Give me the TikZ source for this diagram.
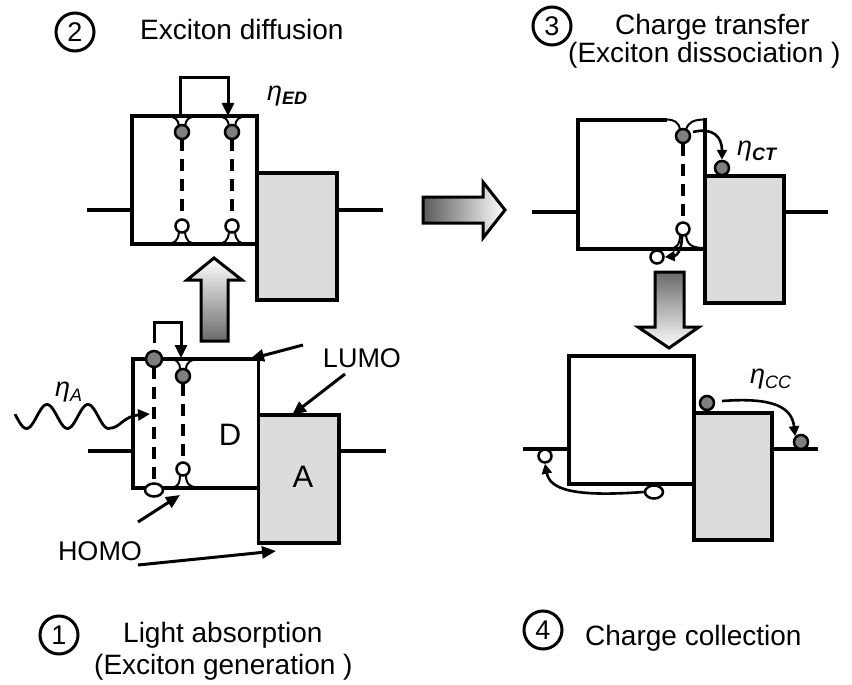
\documentclass[tikz,border=0pt]{standalone}
\usepackage{fontspec}
\setmainfont{Liberation Sans}
\usetikzlibrary{arrows.meta,shapes.geometric}
\definecolor{accfill}{HTML}{DCDCDC}
\definecolor{elecfill}{HTML}{7F7F7F}
\definecolor{arrowgray}{HTML}{6A6A6A}
\begin{document}
\begin{tikzpicture}[x=1pt,y=-1pt,
 band/.style={line width=3.8pt, line join=miter},
 accbox/.style={line width=3.8pt, fill=accfill},
 lead/.style={line width=3.8pt},
 dashln/.style={line width=3.4pt, dash pattern=on 12pt off 8pt},
 elec/.style={circle, draw, line width=2.5pt, fill=elecfill, minimum size=14pt, inner sep=0pt},
 hole/.style={circle, draw, line width=2.5pt, fill=white, minimum size=13pt, inner sep=0pt},
 holeov/.style={ellipse, draw, line width=2.5pt, fill=white, minimum width=18pt, minimum height=13pt, inner sep=0pt},
 cusp/.style={line width=2pt},
 hop/.style={line width=3pt, -{Triangle[length=13pt,width=12pt]}},
 thinarr/.style={line width=2.6pt, -{Triangle[length=10pt,width=10pt]}},
 lblarr/.style={line width=3pt, -{Triangle[length=14pt,width=12pt]}},
 bigarr/.style={draw, line width=3pt, line join=miter},
 lbl/.style={font=\fontsize{28}{30}\selectfont, inner sep=0pt},
 side/.style={font=\fontsize{27}{30}\selectfont, inner sep=0pt},
 big/.style={font=\fontsize{31}{34}\selectfont, inner sep=0pt},
 eta/.style={font=\fontsize{27}{28}\selectfont\itshape, inner sep=0pt},
 num/.style={circle, draw, line width=3pt, minimum size=38pt, inner sep=0pt, font=\fontsize{27}{27}\selectfont},
]
\useasboundingbox (0,0) rectangle (852,685);

% ---------- headers ----------
\node[num] (n2) at (75,32) {2};
\node[lbl, anchor=base west] (h2) at (140,40) {Exciton diffusion};
\node[num] (n3) at (552,26) {3};
\node[lbl, anchor=base west] (h3a) at (615,35) {Charge transfer};
\node[lbl, anchor=base west] (h3b) at (568,63) {(Exciton dissociation )};
\node[num] (n1) at (59,635) {1};
\node[lbl, anchor=base west] (h1a) at (123,642) {Light absorption};
\node[lbl, anchor=base west] (h1b) at (94,674) {(Exciton generation )};
\node[num] (n4) at (543,630) {4};
\node[lbl, anchor=base west] (h4) at (585,645) {Charge collection};

% ---------- panel 2 : exciton diffusion ----------
\draw[accbox] (257,173) rectangle (337,300);
\draw[band] (132,116) rectangle (257,244);
\draw[lead] (87,210) -- (132,210);
\draw[lead] (337,210) -- (383,210);
\foreach \xo in {182,232}{
  \draw[cusp] (\xo-17,116) .. controls (\xo-7,116) and (\xo-4,119) .. (\xo-3,126);
  \draw[cusp] (\xo+17,116) .. controls (\xo+7,116) and (\xo+4,119) .. (\xo+3,126);
  \draw[cusp] (\xo-17,244) .. controls (\xo-7,244) and (\xo-4,241) .. (\xo-3,232);
  \draw[cusp] (\xo+17,244) .. controls (\xo+7,244) and (\xo+4,241) .. (\xo+3,232);
  \draw[dashln] (\xo,139) -- (\xo,220);
}
\node[elec] (e2a) at (182,132) {};
\node[elec] (e2b) at (232,132) {};
\node[hole] (h2a) at (182,226) {};
\node[hole] (h2b) at (232,226) {};
\coordinate (hop2a) at (180,116);
\coordinate (hop2b) at (228,116);
\draw[hop] (hop2a) -- (180,78) -- (228,78) -- (hop2b);
\node[eta, anchor=base west] (etaED) at (267,100) {η\raisebox{-4pt}{\fontsize{18}{18}\selectfont\bfseries\itshape ED}};

% up arrow (1 -> 2)
\path[bigarr, bottom color=arrowgray, top color=white]
  (201,341) -- (201,280) -- (187,280) -- (214,258) -- (242,280) -- (228,280) -- (228,341) -- cycle;

% right arrow (2 -> 3)
\path[bigarr, left color=arrowgray!85!black, right color=white]
  (423,197) -- (483,197) -- (483,182) -- (505,210) -- (483,238) -- (483,223) -- (423,223) -- cycle;

% ---------- panel 1 : light absorption ----------
\draw[accbox] (258.5,415) rectangle (339,543);
\draw[band] (133,359) rectangle (258.5,488);
\draw[lead] (88,451) -- (133,451);
\draw[lead] (339,451) -- (386,451);
\draw[cusp] (167,359) .. controls (177,359) and (180,362) .. (180,370);
\draw[cusp] (203,359) .. controls (190,359) and (186,362) .. (186,370);
\draw[cusp] (167,488) .. controls (177,488) and (180,485) .. (180,475);
\draw[cusp] (205,488) .. controls (190,488) and (186,485) .. (186,475);
\draw[dashln] (154,367) -- (154,484);
\draw[dashln] (183,384) -- (183,462);
\node[elec, minimum width=16pt] (e1a) at (154,359) {};
\node[elec] (e1b) at (183,376) {};
\node[holeov] (h1a) at (154,490) {};
\node[hole] (h1b) at (183,469) {};
\coordinate (hop1a) at (154,343);
\coordinate (hop1b) at (181,358);
\draw[hop] (hop1a) -- (154,322) -- (181,322) -- (hop1b);
\node[big] (labD) at (230,435) {D};
\node[big] (labA) at (303,477) {A};
% photon
\coordinate (phot) at (150,414);
\draw[line width=2.8pt, -{Triangle[length=12pt,width=11pt]}]
  plot[domain=15:110, samples=80] (\x,{416.5+12*cos(8.7805*(\x-26.5))})
  .. controls (119,428.5) and (124,416) .. (phot);
\node[eta, anchor=base west] (etaA) at (55,396) {η\raisebox{-5pt}{\fontsize{18}{18}\selectfont\itshape A}};
% LUMO / HOMO labels
\node[side] (lumo) at (362,358) {LUMO};
\node[side] (homo) at (100,551) {HOMO};
\coordinate (lumoD) at (250,359);
\coordinate (lumoA) at (292,415);
\coordinate (homoD) at (180,495);
\coordinate (homoA) at (276,551);
\draw[lblarr] (303,345) -- (lumoD);
\draw[lblarr] (345,374) -- (lumoA);
\draw[lblarr] (138,522) -- (homoD);
\draw[lblarr] (138,565) -- (homoA);

% ---------- panel 3 : charge transfer ----------
\draw[accbox] (705,176) rectangle (784,303);
\draw[band] (667,120) -| (578,249) -| (705,118.1);
\draw[lead] (532,212) -- (578,212);
\draw[lead] (784,212) -- (828,212);
\draw[cusp] (666,119.5) .. controls (674,119.5) and (679,122) .. (680,130);
\draw[cusp] (686,130) .. controls (688,122) and (694,119.5) .. (705,119.5);
\draw[cusp] (668,249) .. controls (676,249) and (680,245) .. (680,235);
\draw[cusp] (686,235) .. controls (687,245) and (692,248) .. (705,248);
\draw[dashln] (683,144) -- (683,221);
\node[elec] (e3a) at (683,136) {};
\node[hole] (h3a) at (683,229) {};
\node[elec] (e3b) at (722,168) {};
\node[hole] (h3b) at (657,257) {};
\draw[thinarr] (693,132) .. controls (713,127) and (722,137) .. (e3b.north);
\draw[thinarr] (682,236) .. controls (682,251) and (676,256) .. (h3b.east);
\node[eta, anchor=base west] (etaCT) at (737,155) {η\raisebox{-5pt}{\fontsize{18}{18}\selectfont\bfseries\itshape CT}};

% down arrow (3 -> 4)
\path[bigarr, top color=arrowgray, bottom color=white]
  (655,272) -- (684,272) -- (684,327) -- (699,327) -- (669,348) -- (638,327) -- (655,327) -- cycle;

% ---------- panel 4 : charge collection ----------
\draw[accbox] (694,413) rectangle (772,540);
\draw[band] (569,356) rectangle (694,484);
\draw[lead] (523,449) -- (569,449);
\draw[lead] (772,449) -- (818,449);
\node[elec] (e4a) at (707,403) {};
\node[elec] (e4b) at (801,442) {};
\node[hole] (h4a) at (545,456) {};
\node[holeov] (h4b) at (654,492) {};
\draw[thinarr] (722,401) .. controls (775,397) and (792,408) .. (e4b.north west);
\draw[thinarr] (h4b.west) .. controls (575,497) and (550,490) .. (h4a.south);
\node[eta, anchor=base west] (etaCC) at (750,383) {η\raisebox{-5pt}{\fontsize{18}{18}\selectfont\itshape CC}};
\end{tikzpicture}
\end{document}
